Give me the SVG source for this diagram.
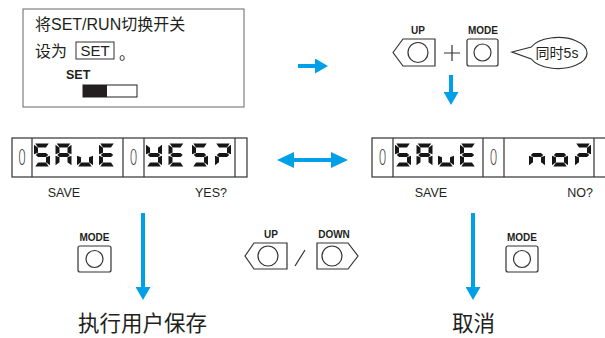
<svg xmlns="http://www.w3.org/2000/svg" width="605" height="338" viewBox="0 0 605 338">
<style>
  .t{font-family:"Liberation Sans","Noto Sans CJK SC",sans-serif;fill:#231f20}
  .lbl{font-family:"Liberation Sans",sans-serif;font-weight:bold;font-size:10px;fill:#231f20;text-anchor:middle}
  .cap{font-family:"Liberation Sans",sans-serif;font-size:12.5px;fill:#231f20;text-anchor:middle}
  .big{font-family:"Noto Sans CJK SC","Liberation Sans",sans-serif;font-size:21.5px;fill:#231f20;text-anchor:middle}
  .frame{fill:#fff;stroke:#333;stroke-width:1.2}
  .div{stroke:#333;stroke-width:1.2}
  .btn{fill:#fff;stroke:#333;stroke-width:1.2}
  .seg{fill:#161616}
  .zero{font-family:"DejaVu Sans",sans-serif;font-weight:200;font-size:22px;fill:#222;text-anchor:middle}
  .arrow{stroke:#00a0e9;stroke-width:4;fill:none}
</style>
<defs>
  <polygon id="sa" class="seg" points="1.3,0 14.7,0 12,4 4,4"/>
  <polygon id="sf" class="seg" points="0,1.3 4,4.3 4,9.2 0,10.8"/>
  <polygon id="sb" class="seg" points="16,1.3 16,10.8 12,9.2 12,4.3"/>
  <polygon id="sg" class="seg" points="1.8,11.5 4,9.6 12,9.6 14.2,11.5 12,13.4 4,13.4"/>
  <polygon id="se" class="seg" points="0,12.2 4,13.8 4,18.7 0,21.7"/>
  <polygon id="sc" class="seg" points="16,12.2 16,21.7 12,18.7 12,13.8"/>
  <polygon id="sd" class="seg" points="4,19 12,19 14.7,23 1.3,23"/>
  <g id="dS"><use href="#sa"/><use href="#sf"/><use href="#sg"/><use href="#sc"/><use href="#sd"/></g>
  <g id="dA"><use href="#sa"/><use href="#sb"/><use href="#sc"/><use href="#se"/><use href="#sf"/><use href="#sg"/></g>
  <g id="du"><use href="#sc"/><use href="#sd"/><use href="#se"/></g>
  <g id="dE"><use href="#sa"/><use href="#sf"/><use href="#sg"/><use href="#se"/><use href="#sd"/></g>
  <g id="dY"><use href="#sb"/><use href="#sc"/><use href="#sd"/><use href="#sf"/><use href="#sg"/></g>
  <g id="dQ"><use href="#sa"/><use href="#sb"/><use href="#sg"/><use href="#se"/></g>
  <g id="dn"><use href="#sc"/><use href="#se"/><use href="#sg"/></g>
  <g id="do"><use href="#sc"/><use href="#sd"/><use href="#se"/><use href="#sg"/></g>
  <marker id="ah" viewBox="0 0 13 15" markerWidth="13" markerHeight="15" refX="0" refY="7.5" orient="auto-start-reverse" markerUnits="userSpaceOnUse">
    <path d="M0,0 L13,7.5 L0,15 Z" fill="#00a0e9"/>
  </marker>
  <marker id="ah2" viewBox="0 0 17 16" markerWidth="17" markerHeight="16" refX="0" refY="8" orient="auto-start-reverse" markerUnits="userSpaceOnUse">
    <path d="M0,0 L17,8 L0,16 Z" fill="#00a0e9"/>
  </marker>
</defs>

<g id="set-box">
  <rect x="23" y="9" width="221" height="98" fill="#fff" stroke="#666" stroke-width="1"/>
  <text class="t" x="35" y="30" font-size="16">将SET/RUN切换开关</text>
  <text class="t" x="35" y="57" font-size="16">设为</text>
  <rect x="76" y="42" width="38" height="17" fill="none" stroke="#333" stroke-width="1"/>
  <text class="t" x="95" y="56" font-size="15" text-anchor="middle">SET</text>
  <text class="t" x="119" y="59" font-size="16">。</text>
  <text class="t" x="66" y="79" font-size="12.5" font-weight="bold">SET</text>
  <rect x="83" y="85" width="54" height="12" fill="#fff" stroke="#231f20" stroke-width="1"/>
  <rect x="83" y="85" width="24" height="12" fill="#231f20"/>
</g>

<g id="top-buttons">
  <text class="lbl" x="418" y="34">UP</text>
  <path class="btn" d="M393,52.5 L403,39 L435,39 L435,66 L403,66 Z"/>
  <circle class="btn" cx="418" cy="52.5" r="10"/>
  <path d="M444,53 H460 M452,45 V61" stroke="#333" stroke-width="1.2" fill="none"/>
  <text class="lbl" x="483" y="34">MODE</text>
  <rect class="btn" x="467" y="39" width="31" height="27" rx="2"/>
  <circle class="btn" cx="482.5" cy="52.5" r="8.5"/>
</g>

<g id="bubble">
  <path d="M531.3,47 A29,15.5 0 1 1 531.3,59 L512,52 Z" fill="#fff" stroke="#333" stroke-width="1.2"/>
  <text class="t" x="557" y="58" font-size="14" text-anchor="middle">同时5s</text>
</g>

<g id="display-yes">
  <rect class="frame" x="12" y="138" width="235" height="39"/>
  <path class="div" d="M32,138V177 M123,138V177 M144,138V177 M235,138V177"/>
  <text class="zero" transform="translate(22,165) scale(0.58,1)">0</text>
  <text class="zero" transform="translate(133.5,165) scale(0.58,1)">0</text>
  <use href="#dS" x="34" y="143.5"/>
  <use href="#dA" x="55.5" y="143.5"/>
  <use href="#du" x="77" y="143.5"/>
  <use href="#dE" x="99" y="143.5"/>
  <use href="#dY" x="146" y="143.5"/>
  <use href="#dE" x="168.5" y="143.5"/>
  <use href="#dS" x="192" y="143.5"/>
  <use href="#dQ" x="215" y="143.5"/>
  <text class="cap" x="64" y="197">SAVE</text>
  <text class="cap" x="211" y="197">YES?</text>
</g>

<g id="display-no">
  <rect class="frame" x="372" y="138" width="240" height="39"/>
  <path class="div" d="M393,138V177 M483,138V177 M504,138V177 M594,138V177"/>
  <text class="zero" transform="translate(382.5,165) scale(0.58,1)">0</text>
  <text class="zero" transform="translate(493.5,165) scale(0.58,1)">0</text>
  <use href="#dS" x="395" y="143.5"/>
  <use href="#dA" x="416.5" y="143.5"/>
  <use href="#du" x="438" y="143.5"/>
  <use href="#dE" x="460" y="143.5"/>
  <use href="#dn" x="529" y="143.5"/>
  <use href="#do" x="552" y="143.5"/>
  <use href="#dQ" x="575" y="143.5"/>
  <text class="cap" x="431" y="197">SAVE</text>
  <text class="cap" x="580" y="197">NO?</text>
</g>

<g id="mode-left">
  <text class="lbl" x="94.5" y="241">MODE</text>
  <rect class="btn" x="78" y="246" width="33" height="26" rx="2"/>
  <circle class="btn" cx="94.5" cy="259" r="8.5"/>
</g>

<g id="updown">
  <text class="lbl" x="271" y="238">UP</text>
  <path class="btn" d="M245,256 L254,243 L287,243 L287,269 L254,269 Z"/>
  <circle class="btn" cx="268" cy="256" r="10"/>
  <line x1="295" y1="266" x2="305" y2="250" stroke="#333" stroke-width="1.2"/>
  <text class="lbl" x="334" y="238">DOWN</text>
  <path class="btn" d="M317,243 L348,243 L358,256 L348,269 L317,269 Z"/>
  <circle class="btn" cx="332" cy="256" r="10"/>
</g>

<g id="mode-right">
  <text class="lbl" x="522" y="241">MODE</text>
  <rect class="btn" x="506" y="246" width="32" height="26" rx="2"/>
  <circle class="btn" cx="522" cy="259" r="8.5"/>
</g>

<g id="result-save">
  <text class="big" x="142.5" y="331">执行用户保存</text>
</g>
<g id="result-cancel">
  <text class="big" x="473.5" y="331">取消</text>
</g>

<g id="connectors">
  <line class="arrow" x1="298" y1="66" x2="315" y2="66" marker-end="url(#ah)"/>
  <line class="arrow" x1="451" y1="75" x2="451" y2="92" marker-end="url(#ah)"/>
  <line class="arrow" x1="294" y1="160" x2="331" y2="160" marker-start="url(#ah2)" marker-end="url(#ah2)"/>
  <line class="arrow" x1="143" y1="213" x2="143" y2="287" marker-end="url(#ah)"/>
  <line class="arrow" x1="473" y1="213" x2="473" y2="287" marker-end="url(#ah)"/>
</g>
</svg>
